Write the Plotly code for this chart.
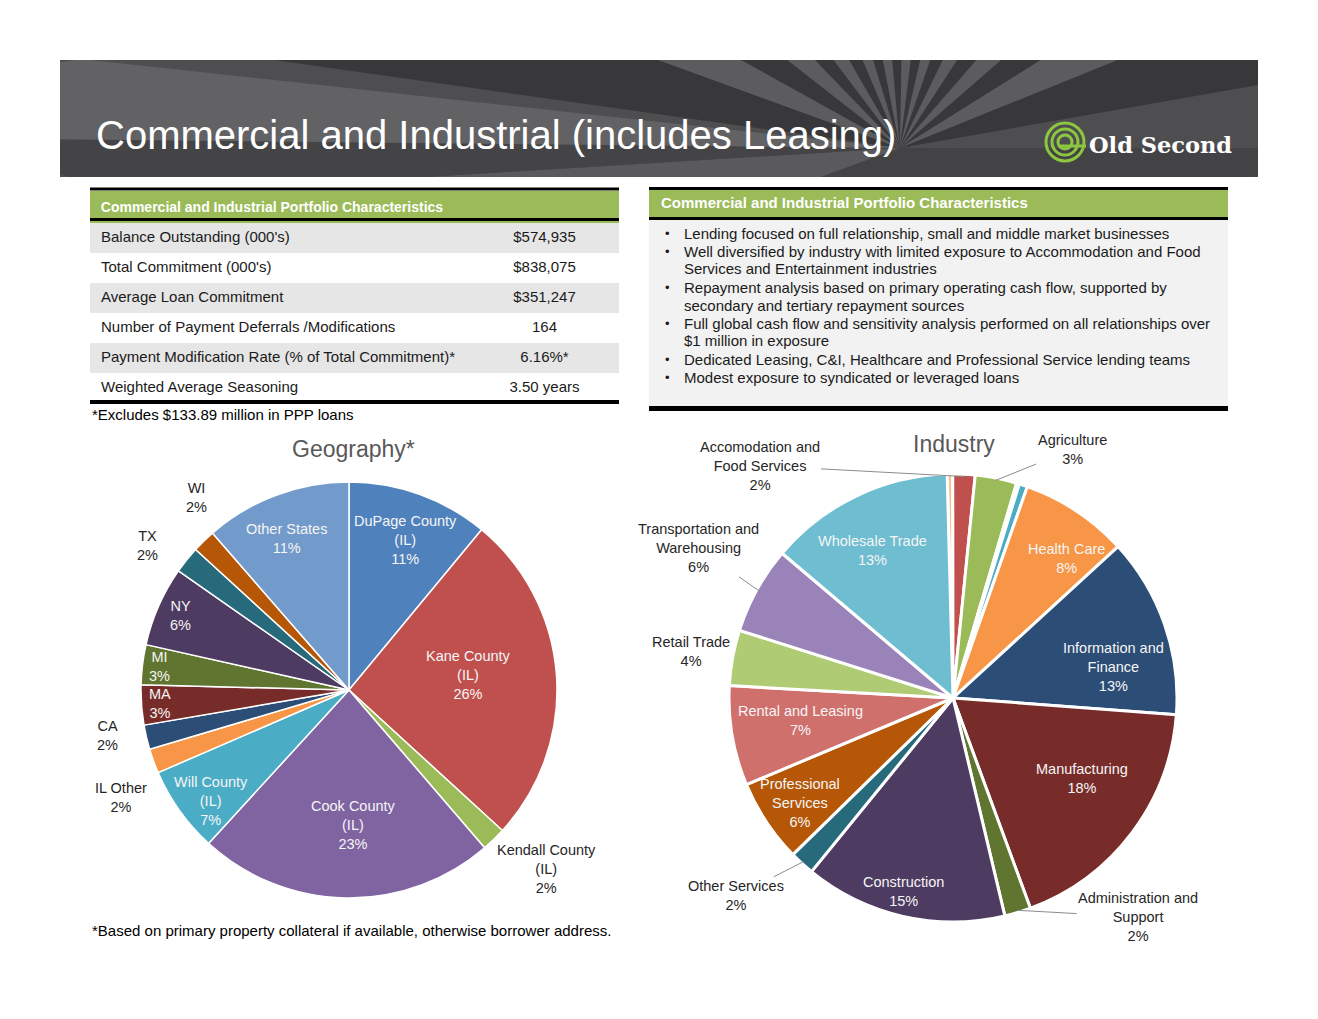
import math
import plotly.graph_objects as go

# page geometry (browser body keeps its default 8px margin)
W, H, OFF = 1302, 1003, 8
FONT = "Arial, 'Liberation Sans', sans-serif"
GREEN = "#9BBB59"


def px(x):
    return (x - OFF) / W


def py(y):
    return 1 - (y - OFF) / H


# ---------------- data ----------------
title = "Commercial and Industrial (includes Leasing)"
table_header = "Commercial and Industrial Portfolio Characteristics"
table_labels = [
    "Balance Outstanding (000's)",
    "Total Commitment (000's)",
    "Average Loan Commitment",
    "Number of Payment Deferrals /Modifications",
    "Payment Modification Rate (% of Total Commitment)*",
    "Weighted Average Seasoning",
]
table_values = ["$574,935", "$838,075", "$351,247", "164", "6.16%*", "3.50 years"]
table_note = "*Excludes $133.89 million in PPP loans"

box_header = "Commercial and Industrial Portfolio Characteristics"
bullets = [
    ["Lending focused on full relationship, small and middle market businesses"],
    ["Well diversified by industry with limited exposure to Accommodation and Food",
     "Services and Entertainment industries"],
    ["Repayment analysis based on primary operating cash flow, supported by",
     "secondary and tertiary repayment sources"],
    ["Full global cash flow and sensitivity analysis performed on all relationships over",
     "$1 million in exposure"],
    ["Dedicated Leasing, C&amp;I, Healthcare and Professional Service lending teams"],
    ["Modest exposure to syndicated or leveraged loans"],
]

geo_title = "Geography*"
geo_note = "*Based on primary property collateral if available, otherwise borrower address."
geo_labels = ["DuPage County (IL)", "Kane County (IL)", "Kendall County (IL)", "Cook County (IL)",
              "Will County (IL)", "IL Other", "CA", "MA", "MI", "NY", "TX", "WI", "Other States"]
geo_text = ["DuPage County<br>(IL)", "Kane County<br>(IL)", "Kendall County<br>(IL)",
            "Cook County<br>(IL)", "Will County<br>(IL)", "IL Other", "CA", "MA", "MI", "NY",
            "TX", "WI", "Other States"]
geo_values = [11.0, 25.8, 1.9, 23.1, 6.7, 1.9, 1.9, 3.1, 3.1, 6.2, 2.1, 1.8, 11.4]
geo_colors = ["#4F81BD", "#C0504D", "#9BBB59", "#8064A2", "#4BACC6", "#F79646", "#2C4D75",
              "#772C2A", "#5F7530", "#4D3B62", "#276A7C", "#B65708", "#729ACA"]

ind_title = "Industry"
ind_labels = ["Arts and Entertainment", "Accomodation and Food Services", "Agriculture",
              "Educational Services", "Utilities", "Health Care", "Information and Finance",
              "Manufacturing", "Administration and Support", "Construction", "Other Services",
              "Professional Services", "Rental and Leasing", "Retail Trade",
              "Transportation and Warehousing", "Wholesale Trade"]
ind_text = ["", "Accomodation and<br>Food Services", "Agriculture", "", "", "Health Care",
            "Information and<br>Finance", "Manufacturing", "Administration and<br>Support",
            "Construction", "Other Services", "Professional<br>Services", "Rental and Leasing",
            "Retail Trade", "Transportation and<br>Warehousing", "Wholesale Trade"]
ind_values = [0.4, 1.6, 3.0, 0.2, 0.6, 7.8, 13.0, 18.2, 1.9, 14.6, 1.8, 6.0, 7.2, 4.0, 6.3, 13.4]
ind_colors = ["#FAC08F", "#C0504D", "#9BBB59", "#8064A2", "#4BACC6", "#F79646", "#2C4D75",
              "#772C2A", "#5F7530", "#4D3B62", "#276A7C", "#B65708", "#D0706D", "#AFCB74",
              "#9983B8", "#6FBDD1"]

# label placement: radius as share of pie radius, angle nudge in degrees
geo_label_r = [0.77, 0.58, 1.28, 0.65, 0.85, 1.21, 1.18, 0.91, 0.92, 0.885, 1.19, 1.18, 0.79]
geo_label_da = [0.7, -3.1, -3.7, -2.9, -3.3, -5.3, 2.4, 0, 0, 0, -3, 6, -1.9]
ind_label_r = [0, 1.35, 1.23, 0, 0, 0.80, 0.73, 0.68, 1.28, 0.89, 1.31, 0.83, 0.69, 1.19, 1.32, 0.75]
ind_label_da = [0, -42.6, 14.5, 0, 0, 5.7, 8.2, -5.1, -23.4, 1.5, 5.2, -1, 1.5, -0.3, 1.5, -3.1]
ind_leader = [False, True, True, False, False, False, False, False, True, False, True, False,
              False, False, True, False]

GEO_C, GEO_R = (349, 690), 208
IND_C, IND_R, IND_ROT = (953, 698), 224, -1.5


def slice_mids(values, rot=0):
    total = sum(values)
    mids, acc = [], 0
    for v in values:
        mids.append(rot + (acc + v / 2) / total * 360)
        acc += v
    return mids


def polar(c, r, ang):
    a = math.radians(ang)
    return c[0] + r * math.sin(a), c[1] - r * math.cos(a)


fig = go.Figure()

# ---------------- table ----------------
row_fill = ["#E6E6E6" if i % 2 == 0 else "#FFFFFF" for i in range(len(table_labels))]
pad = "\u2009"  # thin space: nudges the first column text right a little
fig.add_trace(go.Table(
    domain=dict(x=[px(90), px(619)], y=[py(406), py(191)]),
    columnwidth=[380, 149],
    header=dict(values=[f"<b>{pad}{table_header}</b>", ""], fill_color=GREEN, align="left",
                font=dict(color="white", size=14, family=FONT), height=29, line=dict(width=0)),
    cells=dict(values=[[pad + t for t in table_labels], table_values],
               fill_color=[row_fill, row_fill],
               align=["left", "center"], font=dict(color="#1A1A1A", size=15, family=FONT),
               height=30, line=dict(width=0)),
))

# ---------------- pies ----------------
fig.add_trace(go.Pie(
    labels=geo_labels, values=geo_values, sort=False, direction="clockwise", rotation=0,
    marker=dict(colors=geo_colors, line=dict(color="white", width=1.5)),
    textinfo="none", hoverinfo="label+percent", showlegend=False,
    domain=dict(x=[px(GEO_C[0] - GEO_R), px(GEO_C[0] + GEO_R)],
                y=[py(GEO_C[1] + GEO_R), py(GEO_C[1] - GEO_R)]),
))
fig.add_trace(go.Pie(
    labels=ind_labels, values=ind_values, sort=False, direction="clockwise", rotation=IND_ROT,
    marker=dict(colors=ind_colors, line=dict(color="white", width=3)),
    textinfo="none", hoverinfo="label+percent", showlegend=False,
    domain=dict(x=[px(IND_C[0] - IND_R), px(IND_C[0] + IND_R)],
                y=[py(IND_C[1] + IND_R), py(IND_C[1] - IND_R)]),
))

annotations = []
shapes = []


def add_text(x, y, text, size=15, color="#1A1A1A", xanchor="left", **kw):
    annotations.append(dict(x=px(x), y=py(y), xref="paper", yref="paper", text=text,
                            showarrow=False, xanchor=xanchor, yanchor="middle",
                            font=dict(family=FONT, size=size, color=color), **kw))


def pie_labels(values, texts, radii, nudges, c, r, rot=0, leaders=None):
    total = sum(values)
    for i, mid in enumerate(slice_mids(values, rot)):
        if not texts[i]:
            continue
        pct = round(values[i] / total * 100)
        lx, ly = polar(c, r * radii[i], mid + nudges[i])
        inside = radii[i] < 1
        color = "#F5F5F5" if inside else "#262626"
        text = f"{texts[i]}<br>{pct}%"
        if leaders and leaders[i]:
            tx, ty = polar(c, r * 0.99, mid)
            annotations.append(dict(x=px(tx), y=py(ty), xref="paper", yref="paper", text=text,
                                    showarrow=True, arrowhead=0, arrowwidth=1,
                                    arrowcolor="#8C8C8C", standoff=0, ax=lx - tx, ay=ly - ty,
                                    font=dict(family=FONT, size=14.5, color=color)))
        else:
            add_text(lx, ly, text, size=14.5, color=color, xanchor="center")


pie_labels(geo_values, geo_text, geo_label_r, geo_label_da, GEO_C, GEO_R)
pie_labels(ind_values, ind_text, ind_label_r, ind_label_da, IND_C, IND_R, IND_ROT, ind_leader)


# ---------------- banner ----------------
def rect(x0, y0, x1, y1, color):
    shapes.append(dict(type="rect", xref="paper", yref="paper", x0=px(x0), x1=px(x1),
                       y0=py(y1), y1=py(y0), fillcolor=color, line=dict(width=0), layer="below"))


BX0, BY0, BX1, BY1 = 60, 60, 1258, 177
FOC = (900, 148)
rect(BX0, BY0, BX1, BY1, "#4E4E50")


def hit(a):
    dx, dy = math.cos(math.radians(a)), math.sin(math.radians(a))
    ts = []
    if dx > 1e-9:
        ts.append((BX1 - FOC[0]) / dx)
    if dx < -1e-9:
        ts.append((BX0 - FOC[0]) / dx)
    if dy > 1e-9:
        ts.append((BY1 - FOC[1]) / dy)
    if dy < -1e-9:
        ts.append((BY0 - FOC[1]) / dy)
    t = min(ts)
    return FOC[0] + t * dx, FOC[1] + t * dy


def ray(a0, a1, color):
    pts = [FOC]
    a = a0
    while a < a1:
        pts.append(hit(a))
        a += 0.25
    pts.append(hit(a1))
    path = "M " + " L ".join(f"{px(x):.5f},{py(y):.5f}" for x, y in pts) + " Z"
    shapes.append(dict(type="path", xref="paper", yref="paper", path=path,
                       fillcolor=color, line=dict(width=0), layer="below"))


ray(0, 160, "#434345")
ray(160, 176.5, "#5A5A5C")
ray(176.5, 180.6, "#444446")
ray(180.6, 186.2, "#626264")
edges = [-172, -160, -151, -142, -134, -127, -120, -113, -107, -101, -95, -89, -83,
         -77, -71, -64, -57, -49, -41, -32, -22, -10]
for k in range(len(edges) - 1):
    ray(edges[k], edges[k + 1], "#38383A" if k % 2 == 0 else "#5C5C5E")

add_text(94, 135, title, size=40, color="white")

# logo
for rr in (19, 13, 7):
    shapes.append(dict(type="circle", xref="paper", yref="paper",
                       x0=px(1065 - rr), x1=px(1065 + rr), y0=py(142 + rr), y1=py(142 - rr),
                       line=dict(color="#8DC63F", width=3)))
shapes.append(dict(type="line", xref="paper", yref="paper", x0=px(1058), x1=px(1086),
                   y0=py(146), y1=py(146), line=dict(color="#8DC63F", width=3)))
annotations.append(dict(x=px(1087), y=py(145), xref="paper", yref="paper",
                        text="<b>Old Second</b>", showarrow=False, xanchor="left",
                        yanchor="middle", font=dict(family="'DejaVu Serif', serif", size=22.5,
                                                    color="white")))

# ---------------- table rules and note ----------------
for y0, y1 in ((187.5, 190.5), (218, 221), (400, 404)):
    rect(90, y0, 619, y1, "#000000")
    shapes[-1]["layer"] = "above"
add_text(90, 415, table_note, size=15, color="#000000")

# ---------------- right text box ----------------
rect(649, 220, 1228, 407, "#F2F2F2")
rect(649, 190, 1228, 217, GREEN)
for y0, y1 in ((187, 190), (217, 220), (406, 411)):
    rect(649, y0, 1228, y1, "#000000")
add_text(659, 203, f"<b>{box_header}</b>", size=15, color="white")
line_no = 0
for item in bullets:
    add_text(663, 233 + line_no * 18, "•", size=13, color="#1A1A1A")
    for ln in item:
        add_text(682, 233 + line_no * 18, ln, size=15, color="#1A1A1A")
        line_no += 1

# ---------------- titles and notes ----------------
add_text(354, 449, geo_title, size=23, color="#595959", xanchor="center")
add_text(954, 444, ind_title, size=23, color="#595959", xanchor="center")
add_text(90, 930, geo_note, size=15, color="#000000")

fig.update_layout(
    width=W, height=H, margin=dict(l=0, r=0, t=0, b=0),
    paper_bgcolor="white", plot_bgcolor="white", showlegend=False,
    shapes=shapes, annotations=annotations,
)

fig.write_html("out.html")
